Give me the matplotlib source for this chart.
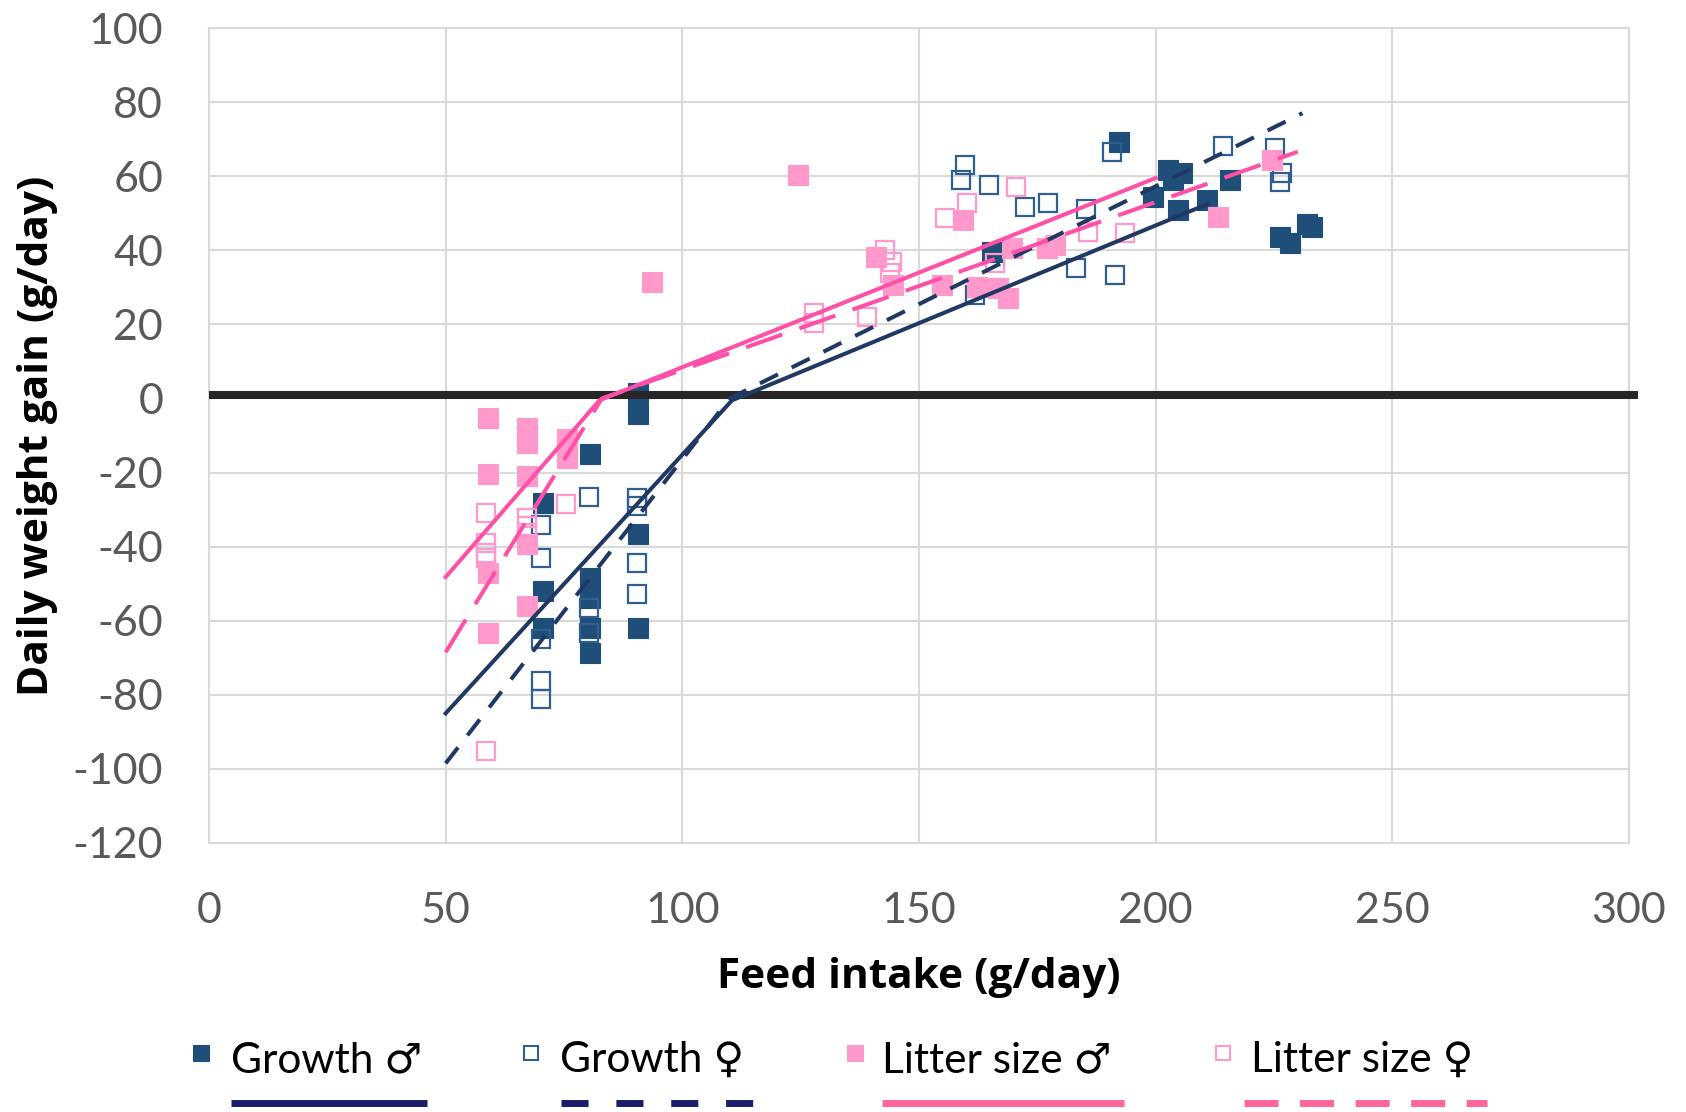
import matplotlib
matplotlib.use("Agg")
import matplotlib.pyplot as plt
from matplotlib.lines import Line2D

# ---------------- data ----------------
growth_m_x = [90.6, 90.6, 80.5, 70.6, 90.6, 70.6, 80.5, 80.5, 70.6, 80.5, 80.5, 90.6,
              192.3, 202.6, 205.6, 199.5, 203.7, 204.7, 210.9, 215.7, 165.4, 226.3,
              228.4, 233.0, 232.0]
growth_m_y = [1.4, -4.1, -14.9, -28.1, -36.5, -51.9, -48.4, -53.8, -61.9, -61.9, -68.6, -61.9,
              69.2, 61.6, 60.8, 54.3, 58.9, 50.8, 53.5, 58.9, 39.5, 43.5,
              41.9, 46.2, 47.0]

growth_f_x = [80.3, 90.4, 90.4, 70.1, 70.1, 90.4, 90.4, 80.3, 80.3, 70.1, 70.1, 70.1,
              159.7, 158.9, 164.8, 172.4, 177.3, 185.3, 190.8, 214.2, 225.2, 226.7,
              226.3, 183.2, 191.4, 161.8]
growth_f_y = [-26.5, -26.8, -28.9, -34.1, -43.0, -44.3, -52.7, -56.5, -63.2, -65.0, -76.2, -81.1,
              63.0, 58.9, 57.6, 51.6, 52.7, 51.1, 66.5, 68.1, 67.6, 60.8,
              58.4, 35.1, 33.2, 27.8]

litter_m_x = [58.9, 67.2, 67.2, 67.2, 75.6, 75.6, 75.6, 58.9, 67.2, 67.2, 58.9, 67.2, 58.9,
              124.4, 93.5, 159.3, 140.9, 144.5, 154.9, 162.3, 166.7, 168.8, 169.7,
              177.1, 178.7, 213.2, 224.6]
litter_m_y = [-5.4, -8.0, -10.0, -12.0, -11.0, -13.5, -16.0, -20.3, -20.8, -39.2, -47.0, -56.0, -63.2,
              60.3, 31.4, 48.1, 38.1, 30.5, 30.5, 30.0, 29.7, 27.0, 40.5,
              40.5, 41.4, 48.9, 64.3]

litter_f_x = [58.5, 58.5, 58.5, 58.5, 67.2, 67.2, 67.2, 75.4, 58.5,
              127.8, 127.8, 139.0, 142.8, 155.5, 160.2, 170.5, 144.3, 143.9,
              166.1, 185.7, 193.5]
litter_f_y = [-30.8, -38.9, -41.6, -43.0, -32.4, -34.3, -36.2, -28.4, -95.1,
              23.0, 20.3, 21.9, 40.0, 48.6, 52.7, 57.0, 36.8, 34.0,
              36.5, 44.9, 44.6]

# broken-stick regression lines
growth_m_line_x = [50, 110.5, 211]
growth_m_line_y = [-85, -0.5, 52.5]
growth_f_line_x = [50, 110, 231]
growth_f_line_y = [-98.5, 0, 77]
litter_m_line_x = [50, 82.5, 200]
litter_m_line_y = [-48.2, -0.5, 59.5]
litter_f_line_x = [50, 83, 230]
litter_f_line_y = [-68.5, 0, 66.6]

zero_line_x = [0, 302]
zero_line_y = [1, 1]

x_ticks = [0, 50, 100, 150, 200, 250, 300]
y_ticks = [-120, -100, -80, -60, -40, -20, 0, 20, 40, 60, 80, 100]

legend_labels = ["Growth \u2642", "Growth \u2640", "Litter size \u2642", "Litter size \u2640"]

# ---------------- style ----------------
FONT = ["Lato", "DejaVu Sans"]
LABEL_FONT = ["Open Sans", "DejaVu Sans"]
plt.rcParams["font.family"] = FONT
plt.rcParams["axes.unicode_minus"] = False

W, H = 1686, 1112
fig = plt.figure(figsize=(W / 100, H / 100), dpi=100)
fig.patch.set_facecolor("white")

def fx(px):
    return px / W

def fy(py):
    return 1 - py / H

ax = fig.add_axes([fx(209), fy(843), 1420 / W, 815 / H])

NAVY_MK = "#1f4e79"
NAVY_LN = "#203864"
PINK_MK = "#ff99cc"
PINK_LN = "#ff4fa7"

ms = 13.8
ax.plot(growth_m_x, growth_m_y, ls="none", marker="s", ms=ms, mfc=NAVY_MK, mec=NAVY_MK, mew=0.8, zorder=3)
ax.plot(growth_f_x, growth_f_y, ls="none", marker="s", ms=ms - 1.5, mfc="none", mec="#2f5f8f", mew=1.6, zorder=3)
ax.plot(litter_m_x, litter_m_y, ls="none", marker="s", ms=ms, mfc=PINK_MK, mec=PINK_MK, mew=0.8, zorder=3)
ax.plot(litter_f_x, litter_f_y, ls="none", marker="s", ms=ms - 1.5, mfc="none", mec=PINK_MK, mew=1.6, zorder=3)

ax.plot(zero_line_x, zero_line_y, color="#262626", lw=5.8, solid_capstyle="butt", clip_on=False, zorder=4)

lw = 2.9
ax.plot(growth_m_line_x, growth_m_line_y, color=NAVY_LN, lw=lw, zorder=5)
ax.plot(growth_f_line_x, growth_f_line_y, color=NAVY_LN, lw=lw, dashes=(5, 3.8), zorder=5)
ax.plot(litter_m_line_x, litter_m_line_y, color=PINK_LN, lw=lw, zorder=5)
ax.plot(litter_f_line_x, litter_f_line_y, color=PINK_LN, lw=lw, dashes=(9.5, 4.5), zorder=5)

ax.set_xlim(0, 300)
ax.set_ylim(-120, 100)
ax.set_xticks(x_ticks)
ax.set_yticks(y_ticks)
ax.grid(True, color="#d9d9d9", lw=1.5, zorder=0)
ax.set_axisbelow(True)
for s in ax.spines.values():
    s.set_color("#d9d9d9")
    s.set_linewidth(1.5)
ax.tick_params(axis="both", length=0, labelsize=31, labelcolor="#595959")
ax.tick_params(axis="y", pad=33)
ax.tick_params(axis="x", pad=35)

ax.set_xlabel("Feed intake (g/day)", fontsize=30.5, fontweight="bold", color="black", family=LABEL_FONT)
ax.set_ylabel("Daily weight gain (g/day)", fontsize=30.5, fontweight="bold", color="black", family=LABEL_FONT)
ax.xaxis.set_label_coords(0.5, -0.14)
ax.yaxis.set_label_coords(-0.106, 0.5)

# ---------------- legend (custom two-row layout) ----------------
mk_y = 1053
txt_y = 1060
ln_y = 1103
items = [
    (201, 231, (231, 427), NAVY_MK, True, "#1c1c6c", None),
    (531, 560, (561, 760), "#2f5f8f", False, "#1c1c6c", (3.9, 4.0)),
    (855, 882, (882, 1124), PINK_MK, True, "#ff6699", None),
    (1223, 1251, (1244, 1487), PINK_MK, False, "#ff6699", (4.9, 3.1)),
]
for (mx, tx, (l0, l1), mc, filled, lc, dash), lab in zip(items, legend_labels):
    fig.add_artist(Line2D([fx(mx)], [fy(mk_y)], transform=fig.transFigure, ls="none", marker="s",
                          ms=11.5 if filled else 10.5,
                          mfc=mc if filled else "none", mec=mc, mew=0.8 if filled else 1.5))
    fig.text(fx(tx), fy(txt_y), lab, fontsize=30.5, color="black", ha="left", va="center", family=FONT)
    kw = dict(color=lc, lw=5, solid_capstyle="butt", dash_capstyle="butt")
    ln = Line2D([fx(l0), fx(l1)], [fy(ln_y), fy(ln_y)], transform=fig.transFigure, **kw)
    if dash is not None:
        ln.set_dashes(dash)
    fig.add_artist(ln)

fig.savefig("out.png", dpi=100, facecolor="white")
